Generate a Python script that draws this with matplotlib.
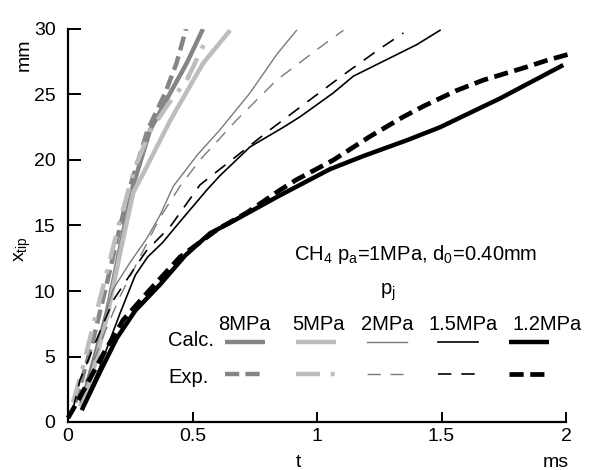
#!/usr/bin/env python3

"""Spray tip penetration x_tip vs time for several injection pressures"""

import matplotlib
matplotlib.use('Agg')
import matplotlib.pyplot as plt

plt.rcParams['font.family'] = ['Liberation Sans', 'DejaVu Sans']
plt.rcParams['mathtext.default'] = 'regular'

# --- data (t in ms, x_tip in mm)
t_8_calc = [0.05, 0.07, 0.10, 0.155, 0.21, 0.256, 0.33, 0.41, 0.477, 0.542]
x_8_calc = [1.2, 2.3, 4.2, 8.3, 13.4, 17.7, 22.3, 25.1, 27.4, 30.0]
t_8_exp = [0.03, 0.06, 0.10, 0.155, 0.21, 0.25, 0.32, 0.39, 0.436, 0.474]
x_8_exp = [1.5, 3.5, 6.2, 10.5, 15.0, 18.0, 22.3, 25.1, 27.4, 30.0]

t_5_calc = [0.05, 0.075, 0.105, 0.16, 0.215, 0.262, 0.33, 0.41, 0.543, 0.651]
x_5_calc = [1.2, 2.3, 4.2, 8.3, 13.4, 17.5, 20.0, 23.0, 27.4, 29.9]
t_5_exp = [0.02, 0.06, 0.10, 0.15, 0.21, 0.27, 0.33, 0.40, 0.477, 0.55]
x_5_exp = [1.5, 4.2, 7.3, 11.0, 15.5, 19.5, 22.2, 24.2, 26.1, 29.0]

t_2_calc = [0.05, 0.075, 0.12, 0.18, 0.25, 0.316, 0.37, 0.423, 0.52, 0.61, 0.73, 0.84, 0.918]
x_2_calc = [1.5, 3.2, 6.3, 10.1, 12.2, 14.0, 15.8, 18.0, 20.4, 22.3, 25.1, 28.1, 29.9]
t_2_exp = [0.03, 0.08, 0.14, 0.209, 0.276, 0.369, 0.45, 0.53, 0.677, 0.838, 1.012, 1.106]
x_2_exp = [1.5, 3.5, 6.5, 9.6, 12.1, 15.6, 18.0, 20.0, 23.05, 26.1, 28.6, 29.9]

t_15_calc = [0.06, 0.075, 0.128, 0.209, 0.27, 0.32, 0.38, 0.45, 0.557, 0.61, 0.731, 0.865,
             0.932, 1.064, 1.146, 1.40, 1.494]
x_15_calc = [1.0, 1.9, 4.2, 8.3, 11.2, 12.6, 13.7, 15.3, 17.7, 18.8, 21.0, 22.5,
             23.3, 25.1, 26.4, 28.8, 29.9]
t_15_exp = [0.02, 0.048, 0.115, 0.182, 0.262, 0.316, 0.41, 0.53, 0.677, 0.811, 0.958,
            1.106, 1.253, 1.347]
x_15_exp = [1.0, 3.2, 6.3, 9.3, 11.6, 13.1, 14.9, 18.1, 20.3, 22.3, 24.4,
            26.5, 28.5, 29.7]

t_12_calc = [0.055, 0.128, 0.196, 0.27, 0.37, 0.47, 0.57, 0.65, 0.851, 1.052, 1.186,
             1.36, 1.494, 1.735, 1.989]
x_12_calc = [0.9, 3.8, 6.4, 8.5, 10.5, 12.7, 14.4, 15.2, 17.3, 19.3, 20.3,
             21.5, 22.5, 24.7, 27.25]
t_12_exp = [0.0, 0.048, 0.142, 0.222, 0.329, 0.45, 0.60, 0.72, 0.851, 0.918, 1.066,
            1.213, 1.347, 1.427, 1.56, 1.668, 1.842, 1.922, 2.016]
x_12_exp = [0.3, 1.9, 5.2, 7.8, 10.1, 12.6, 14.7, 16.0, 17.7, 18.5, 20.0,
            21.8, 23.3, 24.1, 25.3, 26.1, 27.1, 27.6, 28.1]

pressures = ['8MPa', '5MPa', '2MPa', '1.5MPa', '1.2MPa']
x_ticks = [0, 0.5, 1, 1.5, 2]
x_tick_lbls = ['0', '0.5', '1', '1.5', '2']
y_ticks = [0, 5, 10, 15, 20, 25, 30]

DARK = '#858585'
LIGHT = '#bdbdbd'
MID = '#7a7a7a'
TXT = 14.5

fig = plt.figure(figsize=(5.93, 4.70), dpi=100)
ax = fig.add_axes([68 / 593, 48 / 470, 498 / 593, 393 / 470])

calc = []
exp = []
calc += ax.plot(t_8_calc, x_8_calc, color=DARK, lw=3.2, solid_capstyle='butt')
exp += ax.plot(t_8_exp, x_8_exp, color=DARK, lw=3.2, dashes=(3.2, 1.4))
calc += ax.plot(t_5_calc, x_5_calc, color=LIGHT, lw=3.2, solid_capstyle='butt')
exp += ax.plot(t_5_exp, x_5_exp, color=LIGHT, lw=3.2, dashes=(5.4, 2.4, 0.9, 2.4))
calc += ax.plot(t_2_calc, x_2_calc, color=MID, lw=1.0)
exp += ax.plot(t_2_exp, x_2_exp, color=MID, lw=1.0, dashes=(9.5, 7))
calc += ax.plot(t_15_calc, x_15_calc, color='black', lw=1.2)
exp += ax.plot(t_15_exp, x_15_exp, color='black', lw=1.2, dashes=(8, 6))
calc += ax.plot(t_12_calc, x_12_calc, color='black', lw=3.2, solid_capstyle='butt')
exp += ax.plot(t_12_exp, x_12_exp, color='black', lw=3.4, dashes=(3.0, 1.4), clip_on=False)

# Axes stuff
ax.set_xlim(0, 2)
ax.set_ylim(0, 30)
for side in ['top', 'right']:
    ax.spines[side].set_visible(False)
for side in ['left', 'bottom']:
    ax.spines[side].set_linewidth(1.6)
ax.set_xticks(x_ticks, x_tick_lbls)
ax.set_yticks(y_ticks)
ax.tick_params(axis='x', direction='in', length=7.5, width=1.4, pad=4, labelsize=14)
ax.tick_params(axis='y', direction='in', length=9.5, width=1.4, pad=9, labelsize=14)

ax.text(0.463, -0.115, 't', transform=ax.transAxes, fontsize=14, ha='center', va='baseline')
ax.text(0.98, -0.115, 'ms', transform=ax.transAxes, fontsize=14, ha='center', va='baseline')
ax.text(-0.087, 0.934, 'mm', transform=ax.transAxes, fontsize=14, rotation=90,
        ha='center', va='center')
ax.text(-0.09, 0.44, 'x$_{tip}$', transform=ax.transAxes, fontsize=14, rotation=90,
        ha='center', va='center')

# legend block
ax.text(0.699, 0.425, 'CH$_4$ p$_a$=1MPa, d$_0$=0.40mm', transform=ax.transAxes,
        fontsize=TXT, ha='center', va='center')
ax.text(0.643, 0.33, 'p$_j$', transform=ax.transAxes, fontsize=TXT, ha='center', va='center')
for xc, lbl in zip([0.355, 0.504, 0.641, 0.793, 0.962], pressures):
    ax.text(xc, 0.247, lbl, transform=ax.transAxes, fontsize=TXT, ha='center', va='center')
ax.text(0.201, 0.207, 'Calc.', transform=ax.transAxes, fontsize=TXT, ha='left', va='center')
ax.text(0.201, 0.113, 'Exp.', transform=ax.transAxes, fontsize=TXT, ha='left', va='center')

leg_opts = dict(ncol=5, loc='center left', frameon=False, handlelength=2.4,
                handletextpad=0, columnspacing=1.86, borderpad=0, borderaxespad=0,
                fontsize=12)
leg1 = ax.legend(calc, [''] * 5, bbox_to_anchor=(0.315, 0.201), **leg_opts)
ax.add_artist(leg1)
ax.legend(exp, [''] * 5, bbox_to_anchor=(0.315, 0.12), **leg_opts)

plt.savefig('out.png', dpi=100)
